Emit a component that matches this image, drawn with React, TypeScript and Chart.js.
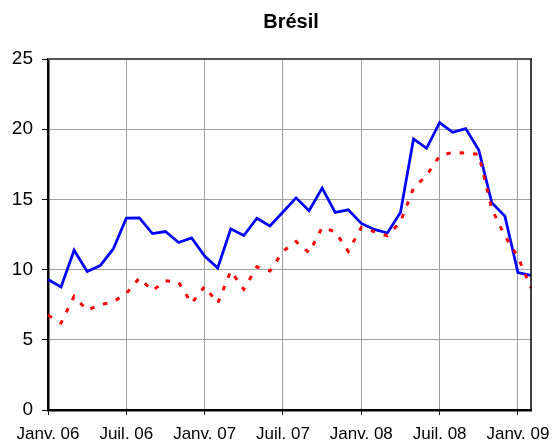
import React, { useEffect, useRef } from "react";
import { Chart, registerables } from "chart.js";

Chart.register(...registerables);

const chartTitle = "Brésil";

const categories = [
  "2006-01", "2006-02", "2006-03", "2006-04", "2006-05", "2006-06",
  "2006-07", "2006-08", "2006-09", "2006-10", "2006-11", "2006-12",
  "2007-01", "2007-02", "2007-03", "2007-04", "2007-05", "2007-06",
  "2007-07", "2007-08", "2007-09", "2007-10", "2007-11", "2007-12",
  "2008-01", "2008-02", "2008-03", "2008-04", "2008-05", "2008-06",
  "2008-07", "2008-08", "2008-09", "2008-10", "2008-11", "2008-12",
  "2009-01", "2009-02",
];

const xTickLabels = ["Janv. 06", "Juil. 06", "Janv. 07", "Juil. 07", "Janv. 08", "Juil. 08", "Janv. 09"];

const blueSeries = [
  9.29, 8.76, 11.38, 9.86, 10.29, 11.47, 13.66, 13.69, 12.57, 12.71, 11.93, 12.26,
  10.97, 10.11, 12.9, 12.43, 13.66, 13.11, 14.1, 15.11, 14.19, 15.81, 14.07, 14.26,
  13.29, 12.86, 12.61, 14.07, 19.31, 18.64, 20.47, 19.78, 20.04, 18.52, 14.76, 13.81,
  9.79, 9.59,
];

const redSeries = [
  6.75, 6.2, 8.1, 7.1, 7.5, 7.7, 8.3, 9.4, 8.5, 9.2, 9.1, 7.6,
  8.8, 7.6, 9.9, 8.6, 10.2, 9.9, 11.3, 12.0, 11.2, 13.0, 12.7, 11.3,
  13.0, 12.7, 12.4, 13.4, 15.8, 16.7, 18.1, 18.35, 18.3, 18.2, 14.3, 12.4,
  10.9, 8.7,
];

const yTicks = [0, 5, 10, 15, 20, 25];

const FONT = "'Liberation Sans', Arial, sans-serif";

export default function App() {
  const ref = useRef<HTMLCanvasElement | null>(null);

  useEffect(() => {
    if (!ref.current) return;
    const framePlugin = {
      id: "frame",
      afterDraw(chart: any) {
        const { ctx, chartArea } = chart;
        ctx.save();
        ctx.strokeStyle = "#555555";
        ctx.lineWidth = 2;
        ctx.beginPath();
        ctx.moveTo(chartArea.left, chartArea.top);
        ctx.lineTo(chartArea.right + 1, chartArea.top);
        ctx.stroke();
        ctx.strokeStyle = "#000000";
        ctx.lineWidth = 1.5;
        ctx.beginPath();
        ctx.moveTo(chartArea.right, chartArea.top);
        ctx.lineTo(chartArea.right, chartArea.bottom);
        ctx.stroke();
        ctx.fillStyle = "#000000";
        ctx.font = `bold 20px ${FONT}`;
        ctx.textAlign = "center";
        ctx.textBaseline = "alphabetic";
        ctx.fillText(chartTitle, (chartArea.left + chartArea.right) / 2 + 1.5, 27.5);
        ctx.restore();
      },
    };

    const chart = new Chart(ref.current, {
      type: "line",
      data: {
        labels: categories,
        datasets: [
          {
            data: redSeries,
            borderColor: "#ff0000",
            borderWidth: 3,
            borderDash: [4.5, 9],
            pointRadius: 0,
            tension: 0,
            fill: false,
          },
          {
            data: blueSeries,
            borderColor: "#0000ff",
            borderWidth: 2.75,
            pointRadius: 0,
            tension: 0,
            fill: false,
          },
        ],
      },
      plugins: [framePlugin],
      options: {
        animation: false,
        responsive: false,
        devicePixelRatio: 1,
        layout: { padding: { top: 59, right: 25, left: 0, bottom: 0 } },
        plugins: {
          legend: { display: false },
          title: { display: false },
          tooltip: { enabled: false },
        },
        scales: {
          x: {
            type: "category",
            offset: false,
            afterFit(scale: any) {
              scale.height = 33;
            },
            grid: {
              color: (ctx: any) => (ctx.index % 6 === 0 && ctx.index > 0 ? "#a0a0a0" : "rgba(0,0,0,0)"),
              tickColor: (ctx: any) => (ctx.index % 6 === 0 ? "#000000" : "rgba(0,0,0,0)"),
              tickLength: 5,
              lineWidth: 1,
            },
            border: { color: "#000000", width: 2.5 },
            ticks: {
              autoSkip: false,
              maxRotation: 0,
              minRotation: 0,
              padding: 9,
              color: "#000000",
              font: { family: FONT, size: 17 },
              callback: (_v: any, index: number) => (index % 6 === 0 ? xTickLabels[index / 6] : ""),
            },
          },
          y: {
            min: yTicks[0],
            max: yTicks[yTicks.length - 1],
            afterFit(scale: any) {
              scale.width = 48;
            },
            afterBuildTicks(scale: any) {
              scale.ticks = yTicks.map((v) => ({ value: v }));
            },
            grid: {
              color: (ctx: any) =>
                ctx.tick && (ctx.tick.value === 25 || ctx.tick.value === 0) ? "rgba(0,0,0,0)" : "#a0a0a0",
              tickColor: "#000000",
              tickLength: 6,
              lineWidth: 1,
            },
            border: { color: "#000000", width: 2.5 },
            ticks: {
              padding: 9,
              color: "#000000",
              font: { family: FONT, size: 19 },
            },
          },
        },
      },
    } as any);
    return () => chart.destroy();
  }, []);

  return (
    <canvas
      ref={ref}
      width={556}
      height={443}
      style={{ position: "absolute", left: 0, top: 0, width: 556, height: 443 }}
    />
  );
}
